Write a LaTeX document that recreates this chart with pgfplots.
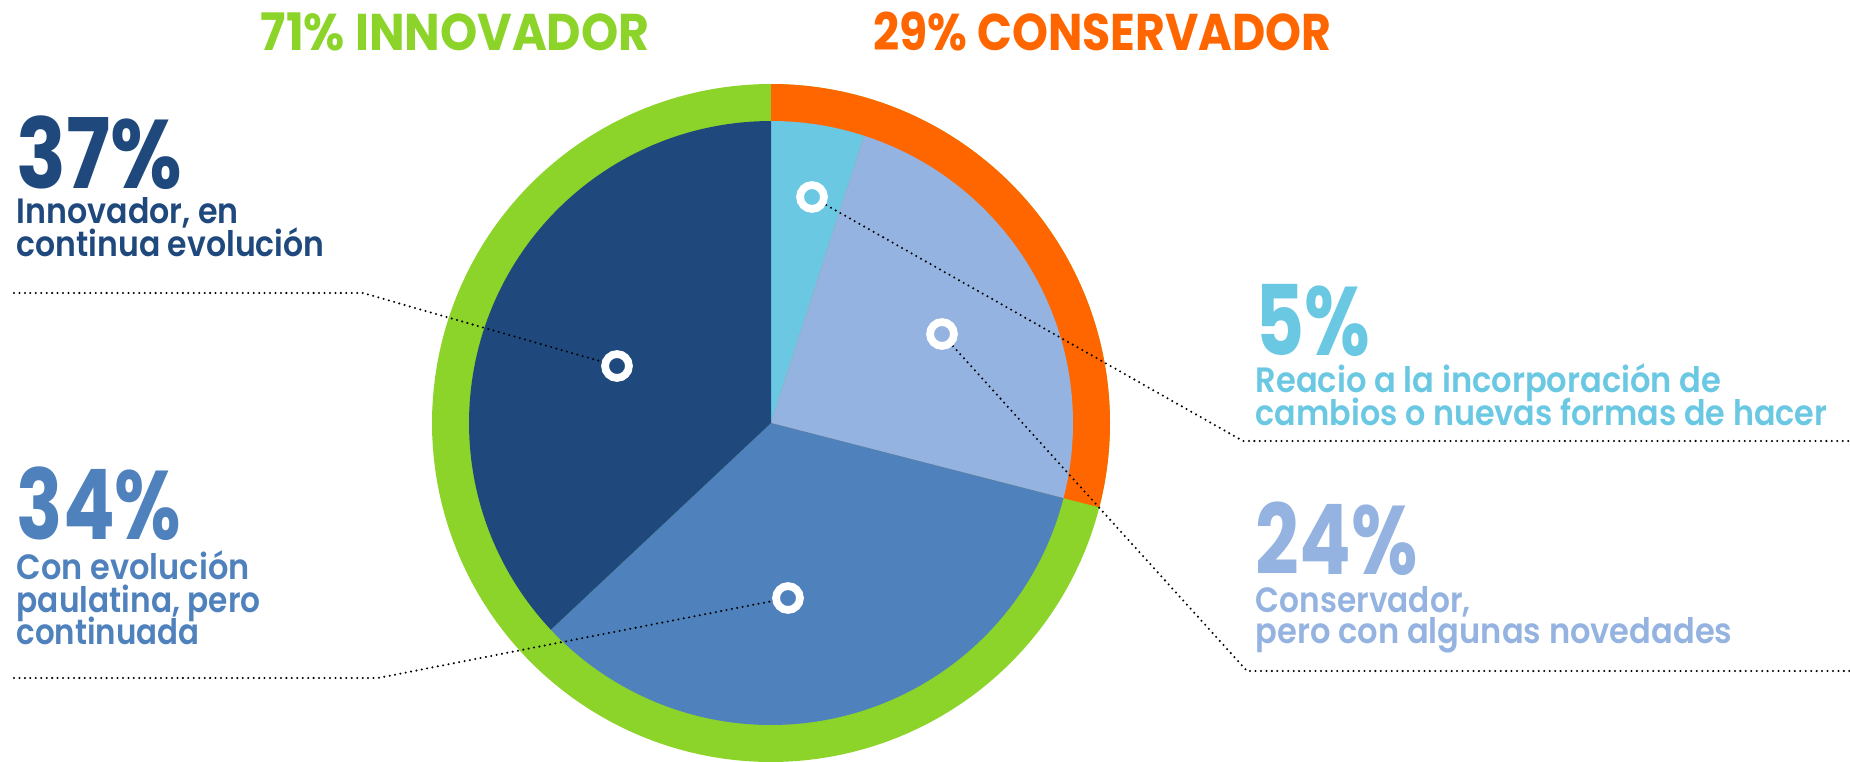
\documentclass[border=0pt]{standalone}
\usepackage{pgfplots}
\pgfplotsset{compat=1.18}
\usepackage{graphicx}
\usepackage{fontspec}
\setmainfont{Poppins}
\newfontfamily\semib{Poppins SemiBold}
\definecolor{cInno}{HTML}{8CD32A}
\definecolor{cCons}{HTML}{FF6600}
\definecolor{cCyan}{HTML}{6BC8E3}
\definecolor{cLight}{HTML}{95B3E0}
\definecolor{cMed}{HTML}{4F81BD}
\definecolor{cDark}{HTML}{1F497D}
\newlength\px \setlength\px{0.01cm}
\newcommand\fitw[2]{\resizebox{#1\px}{\height}{#2}}
% shares (percent), clockwise from the top
\def\pA{5}\def\pB{24}\def\pC{34}\def\pD{37}
\def\pCons{29}\def\pInno{71}
\def\cx{771}\def\cy{338}\def\rin{302}\def\rout{339}
\begin{document}
\begin{tikzpicture}[
  dotline/.style={black, line width=0.65pt, line cap=round, dash pattern=on 0pt off 1.55pt},
  bignum/.style={anchor=base west, inner sep=0pt, font=\bfseries\fontsize{27.7}{28}\selectfont},
  body/.style={anchor=base west, inner sep=0pt, font=\semib\fontsize{10}{11}\selectfont},
  ttl/.style={anchor=base west, inner sep=0pt, font=\bfseries\fontsize{14.7}{15}\selectfont},
]
\pgfmathsetmacro\aA{90-3.6*\pA}
\pgfmathsetmacro\aB{\aA-3.6*\pB}
\pgfmathsetmacro\aC{\aB-3.6*\pC}
\pgfmathsetmacro\aD{\aC-3.6*\pD}
\pgfmathsetmacro\aR{90-3.6*\pCons}
\begin{axis}[
  width=18.5cm, height=7.61cm, scale only axis,
  xmin=0, xmax=1850, ymin=0, ymax=761,
  hide axis,
]
% outer ring
\addplot[draw=none, fill=cInno, domain=0:360, samples=181, variable=\t]
  ({\cx+\rout*cos(\t)},{\cy+\rout*sin(\t)}) -- cycle;
\addplot[draw=none, fill=cCons, domain=\aR:90, samples=80, variable=\t]
  ({\cx+\rout*cos(\t)},{\cy+\rout*sin(\t)}) -- (axis cs:\cx,\cy) -- cycle;
% pie slices
\addplot[draw=none, fill=cCyan, domain=\aA:90, samples=30, variable=\t]
  ({\cx+\rin*cos(\t)},{\cy+\rin*sin(\t)}) -- (axis cs:\cx,\cy) -- cycle;
\addplot[draw=none, fill=cLight, domain=\aB:\aA, samples=80, variable=\t]
  ({\cx+\rin*cos(\t)},{\cy+\rin*sin(\t)}) -- (axis cs:\cx,\cy) -- cycle;
\addplot[draw=none, fill=cMed, domain=\aC:\aB, samples=100, variable=\t]
  ({\cx+\rin*cos(\t)},{\cy+\rin*sin(\t)}) -- (axis cs:\cx,\cy) -- cycle;
\addplot[draw=none, fill=cDark, domain=\aD:\aC, samples=100, variable=\t]
  ({\cx+\rin*cos(\t)},{\cy+\rin*sin(\t)}) -- (axis cs:\cx,\cy) -- cycle;
% leader lines
\addplot[dotline] coordinates {(14,468) (363,468) (617,395)};
\addplot[dotline] coordinates {(14,83) (378,83) (788,163)};
\addplot[dotline] coordinates {(812,564) (1243,320) (1850,320)};
\addplot[dotline] coordinates {(942,427) (1247,90) (1850,90)};
% markers
\addplot[only marks, mark=*, mark size=3.4pt, mark options={draw=white, fill=cDark, line width=2.2pt}] coordinates {(617,395)};
\addplot[only marks, mark=*, mark size=3.4pt, mark options={draw=white, fill=cMed, line width=2.2pt}] coordinates {(788,163)};
\addplot[only marks, mark=*, mark size=3.4pt, mark options={draw=white, fill=cCyan, line width=2.2pt}] coordinates {(812,564)};
\addplot[only marks, mark=*, mark size=3.4pt, mark options={draw=white, fill=cLight, line width=2.2pt}] coordinates {(942,427)};
% titles
\node[ttl, text=cInno] at (axis cs:260,710) {\fitw{389}{71\% INNOVADOR}};
\node[ttl, text=cCons] at (axis cs:873,710) {\fitw{458}{29\% CONSERVADOR}};
% 37%
\node[bignum, text=cDark] at (axis cs:16,572) {\fitw{166}{37\%}};
\node[body, text=cDark] at (axis cs:16,537) {\fitw{222}{Innovador, en}};
\node[body, text=cDark] at (axis cs:16,504) {\fitw{308}{continua evolución}};
% 34%
\node[bignum, text=cMed] at (axis cs:16,222) {\fitw{165}{34\%}};
\node[body, text=cMed] at (axis cs:16,182) {\fitw{233}{Con evolución}};
\node[body, text=cMed] at (axis cs:16,149) {\fitw{244}{paulatina, pero}};
\node[body, text=cMed] at (axis cs:16,117) {\fitw{183}{continuada}};
% 5%
\node[bignum, text=cCyan] at (axis cs:1255,406) {\fitw{115}{5\%}};
\node[body, text=cCyan] at (axis cs:1255,369) {\fitw{466}{Reacio a la incorporación de}};
\node[body, text=cCyan] at (axis cs:1255,336) {\fitw{572}{cambios o nuevas formas de hacer}};
% 24%
\node[bignum, text=cLight] at (axis cs:1255,187) {\fitw{162}{24\%}};
\node[body, text=cLight] at (axis cs:1255,149) {\fitw{215}{Conservador,}};
\node[body, text=cLight] at (axis cs:1255,118) {\fitw{477}{pero con algunas novedades}};
\end{axis}
\pgfresetboundingbox
\useasboundingbox (current axis.south west) rectangle (current axis.north east);
\end{tikzpicture}
\end{document}
